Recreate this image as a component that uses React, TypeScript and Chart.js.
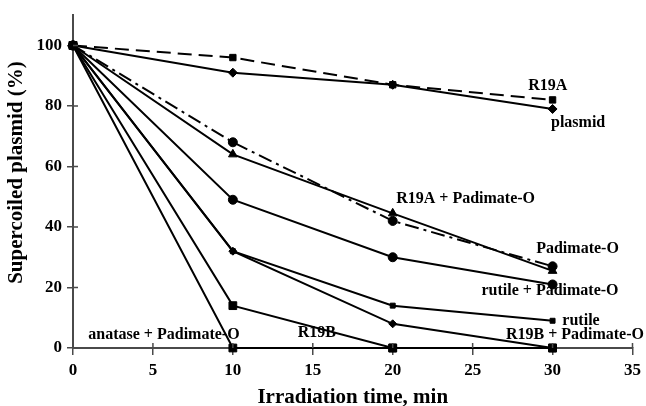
import React, { useEffect, useRef } from "react";
import { Chart, registerables } from "chart.js";

Chart.register(...registerables);

const times = [0, 10, 20, 30];
const plasmid = [100, 91, 87, 79];
const r19a = [100, 96, 87, 82];
const padimate = [100, 68, 42, 27];
const r19aPadimate = [100, 64, 44.5, 25.5];
const rutilePadimate = [100, 49, 30, 21];
const rutile = [100, 32, 14, 9];
const r19bPadimate = [100, 32, 8, 0];
const r19b = [100, 14, 0, 0];
const anatasePadimate = [100, 0, 0, 0];

const xTicks = [0, 5, 10, 15, 20, 25, 30, 35];
const yTicks = [0, 20, 40, 60, 80, 100];

const seriesLabels = [
  { text: "R19A", x: 29.7, y: 86.5 },
  { text: "plasmid", x: 31.6, y: 74.3 },
  { text: "R19A + Padimate-O", x: 24.56, y: 49.3 },
  { text: "Padimate-O", x: 31.56, y: 32.9 },
  { text: "rutile + Padimate-O", x: 29.84, y: 18.75 },
  { text: "rutile", x: 31.78, y: 8.9 },
  { text: "R19B + Padimate-O", x: 31.4, y: 4.3 },
  { text: "R19B", x: 15.25, y: 4.9 },
  { text: "anatase + Padimate-O", x: 5.69, y: 4.3 },
];

const FONT = "'Liberation Serif', 'Times New Roman', serif";

const pts = (vals: number[]) => times.map((t, i) => ({ x: t, y: vals[i] }));

const ds = (
  label: string,
  vals: number[],
  style: string,
  radius: number,
  dash: number[] = []
) => ({
  label,
  data: pts(vals),
  borderColor: "#000",
  backgroundColor: "#000",
  borderWidth: 2,
  borderDash: dash,
  pointStyle: style,
  pointRadius: radius,
  pointBorderWidth: 1,
  pointBorderColor: "#000",
  pointBackgroundColor: "#000",
  showLine: true,
  tension: 0,
  fill: false,
  clip: false,
});

const annotationPlugin = {
  id: "annotations",
  afterDatasetsDraw(chart: any) {
    const { ctx, scales, chartArea } = chart;
    const xs = scales.x;
    const ys = scales.y;
    ctx.save();
    // inner tick marks crossing the axes
    ctx.strokeStyle = "#4a4a4a";
    ctx.lineWidth = 1.5;
    ctx.beginPath();
    xTicks.forEach((v) => {
      const px = xs.getPixelForValue(v);
      ctx.moveTo(px, chartArea.bottom);
      ctx.lineTo(px, chartArea.bottom - 5);
    });
    yTicks.forEach((v) => {
      const py = ys.getPixelForValue(v);
      ctx.moveTo(chartArea.left, py);
      ctx.lineTo(chartArea.left + 5, py);
    });
    ctx.stroke();

    ctx.fillStyle = "#000";
    ctx.font = `bold 16px ${FONT}`;
    ctx.textAlign = "center";
    ctx.textBaseline = "middle";
    seriesLabels.forEach((l) => {
      ctx.fillText(l.text, xs.getPixelForValue(l.x), ys.getPixelForValue(l.y));
    });

    // y axis title
    ctx.save();
    ctx.font = `bold 21px ${FONT}`;
    ctx.translate(17, (chartArea.top + chartArea.bottom) / 2 - 9);
    ctx.rotate(-Math.PI / 2);
    ctx.fillText("Supercoiled plasmid (%)", 0, 0);
    ctx.restore();
    ctx.restore();
  },
};

export default function App() {
  const ref = useRef<HTMLCanvasElement | null>(null);
  useEffect(() => {
    document.body.style.margin = "0";
    const canvas = ref.current;
    if (!canvas) return;
    const chart = new Chart(canvas, {
      type: "scatter",
      data: {
        datasets: [
          ds("plasmid", plasmid, "rectRot", 4.5),
          ds("R19A", r19a, "rect", 4.5, [14, 7]),
          ds("Padimate-O", padimate, "circle", 4.5, [14, 5, 3, 5]),
          ds("R19A + Padimate-O", r19aPadimate, "triangle", 5),
          ds("rutile + Padimate-O", rutilePadimate, "circle", 4.5),
          ds("rutile", rutile, "rect", 3.5),
          ds("R19B + Padimate-O", r19bPadimate, "rectRot", 4),
          ds("R19B", r19b, "rect", 5.5),
          ds("anatase + Padimate-O", anatasePadimate, "rect", 5.5),
        ] as any,
      },
      options: {
        animation: false,
        responsive: false,
        maintainAspectRatio: false,
        layout: { padding: { top: 13, right: 13, left: 0, bottom: 0 } },
        plugins: {
          legend: { display: false },
          tooltip: { enabled: false },
        },
        scales: {
          x: {
            type: "linear",
            min: 0,
            max: 35,
            ticks: {
              stepSize: 5,
              color: "#000",
              font: { family: FONT, size: 17, weight: "bold" },
              padding: 5,
            },
            grid: {
              display: true,
              drawOnChartArea: false,
              drawTicks: true,
              tickLength: 7,
              color: "#4a4a4a",
              lineWidth: 1.5,
            },
            border: { display: true, color: "#4a4a4a", width: 2 },
            title: {
              display: true,
              text: "Irradiation time, min",
              color: "#000",
              font: { family: FONT, size: 21, weight: "bold", lineHeight: 1 },
              padding: { top: 0, bottom: -2 },
            },
            afterFit: (scale: any) => {
              scale.height = 58;
            },
          },
          y: {
            type: "linear",
            min: 0,
            max: 110,
            afterBuildTicks: (scale: any) => {
              scale.ticks = yTicks.map((v) => ({ value: v }));
            },
            ticks: {
              color: "#000",
              font: { family: FONT, size: 17, weight: "bold" },
              padding: 5,
            },
            grid: {
              display: true,
              drawOnChartArea: false,
              drawTicks: true,
              tickLength: 6,
              color: "#4a4a4a",
              lineWidth: 1.5,
            },
            border: { display: true, color: "#4a4a4a", width: 2 },
            afterFit: (scale: any) => {
              scale.width = 73;
            },
          },
        },
      } as any,
      plugins: [annotationPlugin],
    });
    return () => chart.destroy();
  }, []);
  return (
    <div style={{ width: 646, height: 406, background: "#fff" }}>
      <canvas ref={ref} width={646} height={406} />
    </div>
  );
}
